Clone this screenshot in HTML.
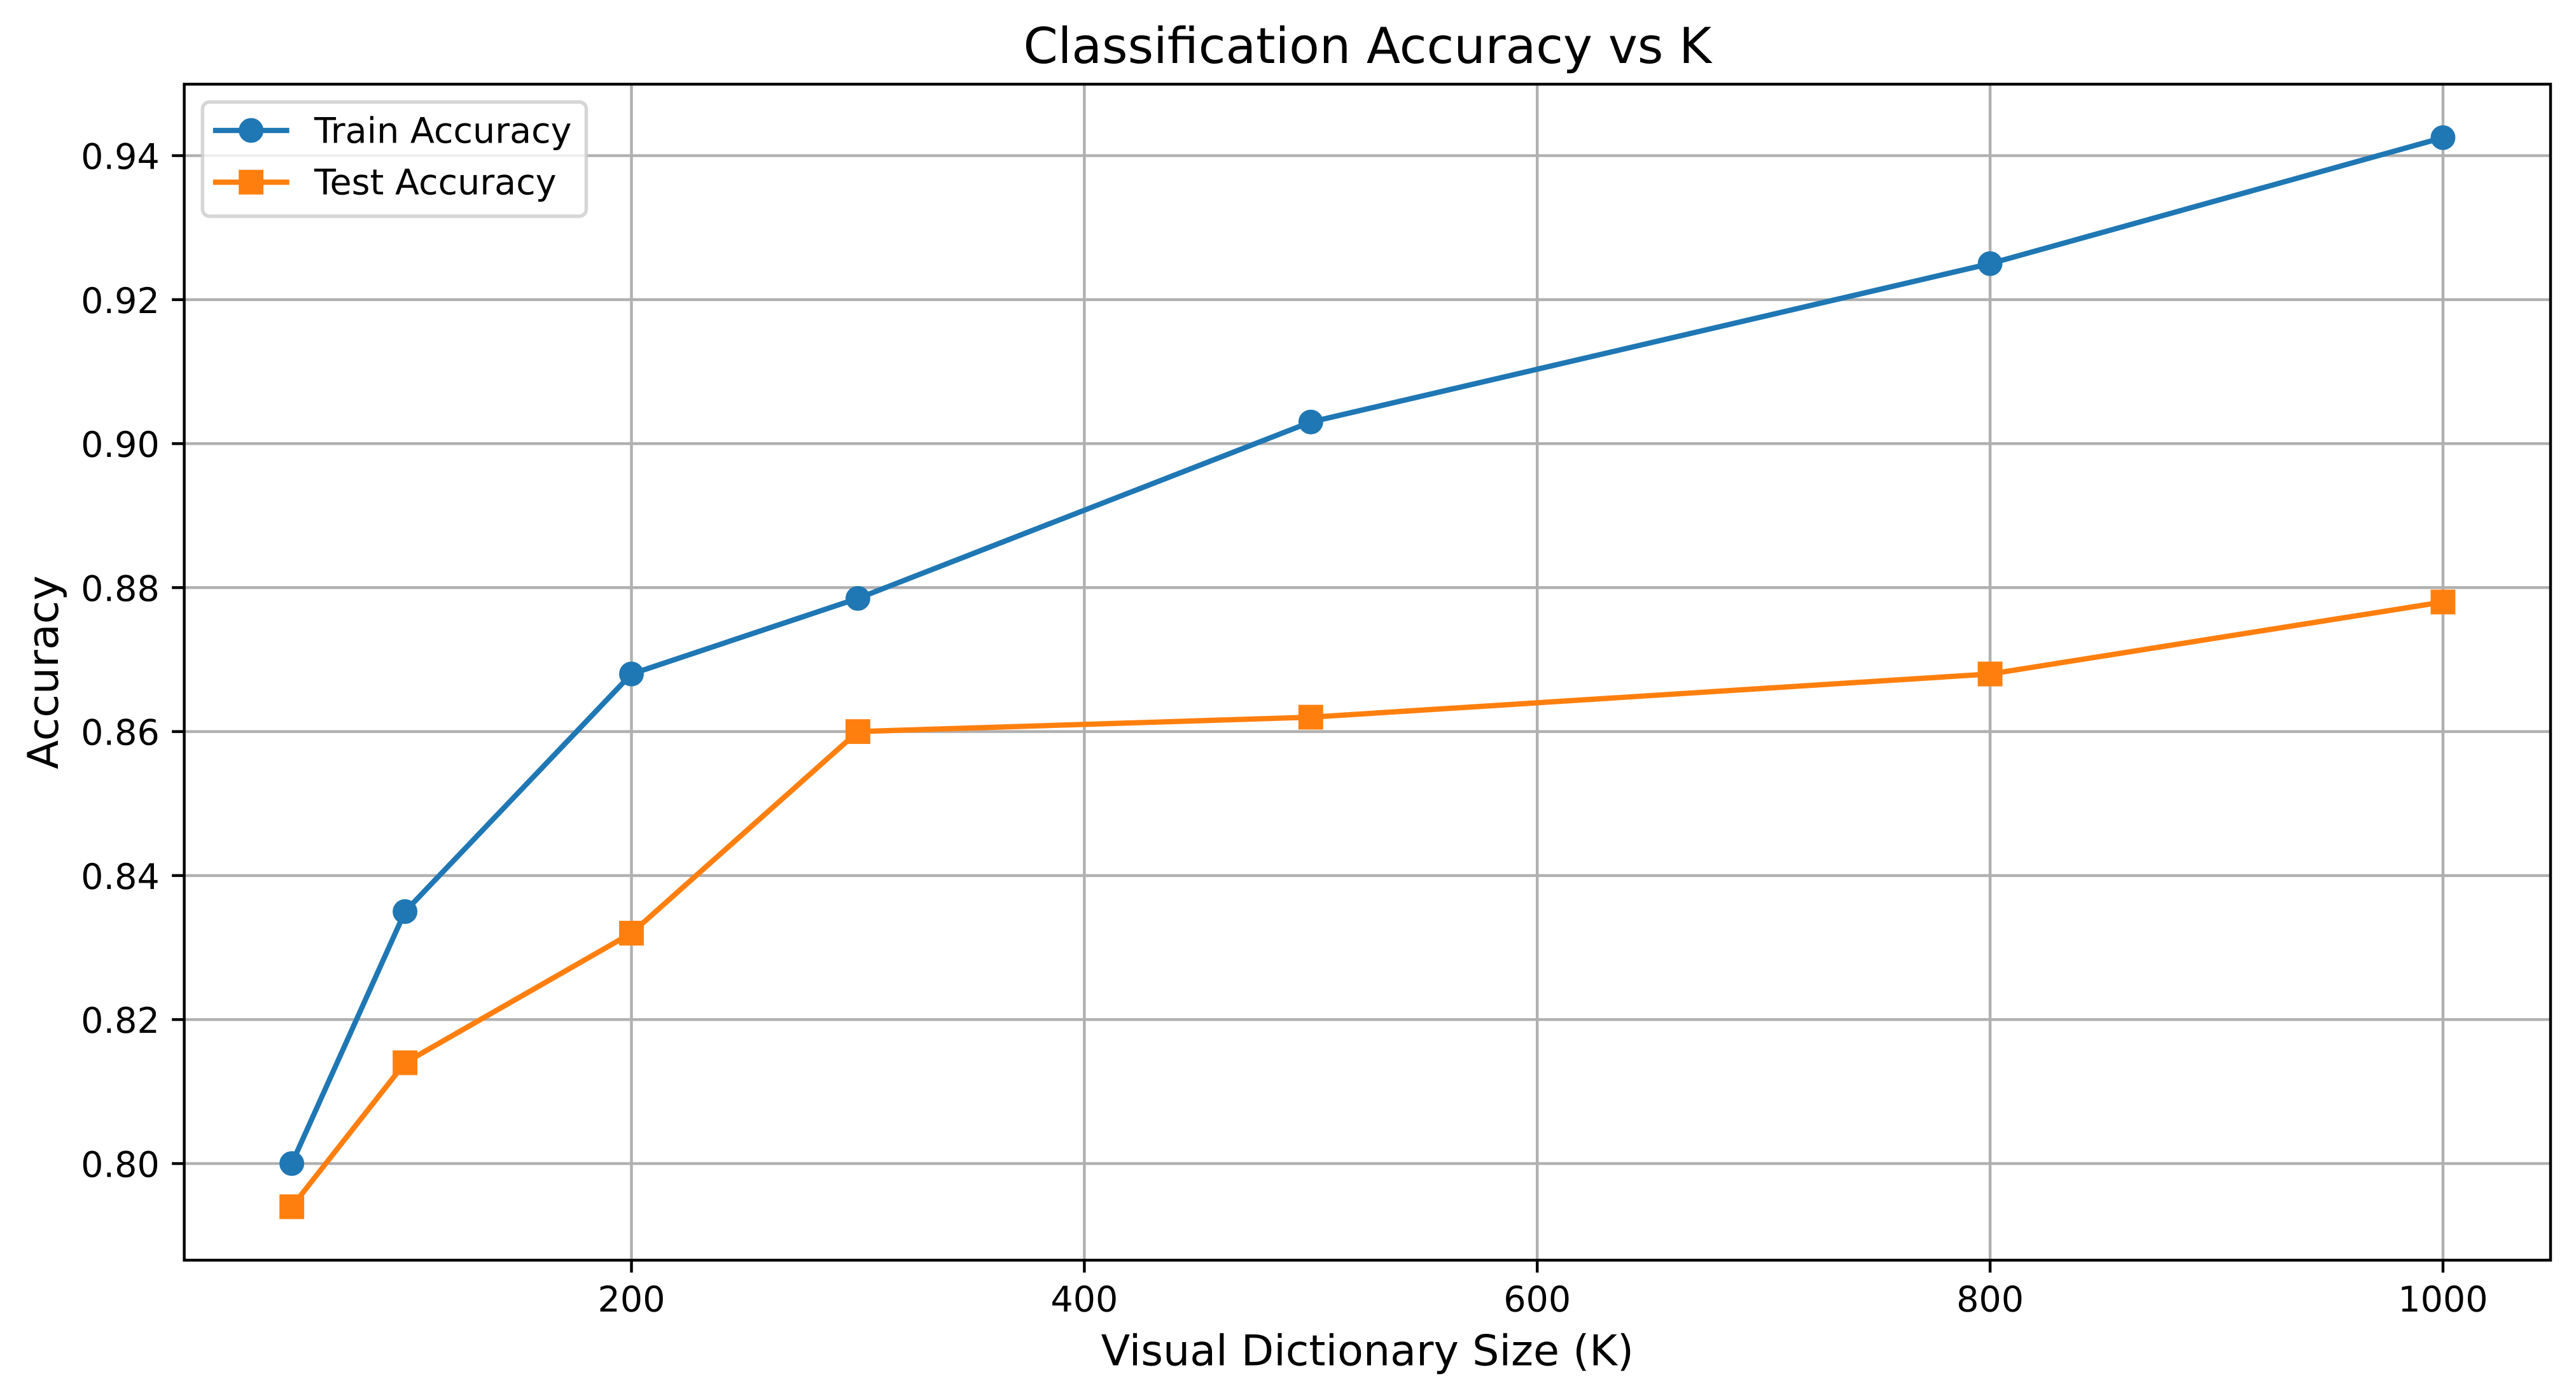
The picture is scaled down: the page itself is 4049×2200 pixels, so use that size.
<!DOCTYPE html>
<html lang="en">
<head>
<meta charset="utf-8">
<title>Classification Accuracy vs K</title>
<style>
html,body{margin:0;padding:0;background:#fff;}
body{width:4049px;height:2200px;overflow:hidden;}
svg{display:block;}
text{font-family:"DejaVu Sans","Liberation Sans",sans-serif;fill:#000;text-rendering:geometricPrecision;}
</style>
</head>
<body>
<svg id="chart" xmlns="http://www.w3.org/2000/svg" width="4049" height="2200" viewBox="0 0 4049 2200">
  <rect x="0" y="0" width="4049" height="2200" fill="#fff"/>
  <g id="grid"></g>
  <g id="ticks"></g>
  <g id="series"></g>
  <rect x="289.6" y="132.3" width="3719.4" height="1848" fill="none" stroke="#000" stroke-width="4.44" stroke-linejoin="miter"/>
  <text x="2149.3" y="99" font-size="77.8" text-anchor="middle">Classification Accuracy vs K</text>
  <text x="2149.3" y="2145.7" font-size="66.7" text-anchor="middle">Visual Dictionary Size (K)</text>
  <text transform="translate(91 1056.5) rotate(-90)" font-size="66.7" text-anchor="middle">Accuracy</text>
  <g>
    <rect x="318.3" y="160.3" width="603.2" height="179.5" rx="11" ry="11" fill="#fff" fill-opacity="0.8" stroke="#ccc" stroke-opacity="0.8" stroke-width="5.55"/>
    <g>
      <line x1="334.8" y1="205" x2="454.7" y2="205" stroke="#1f77b4" stroke-width="8.33"/>
      <circle cx="394.7" cy="205" r="16.67" fill="#1f77b4" stroke="#1f77b4" stroke-width="5.55"/>
      <text x="494" y="224.3" font-size="55.55">Train Accuracy</text>
    </g>
    <g>
      <line x1="334.8" y1="286.3" x2="454.7" y2="286.3" stroke="#ff7f0e" stroke-width="8.33"/>
      <rect x="378" y="269.6" width="33.3" height="33.3" fill="#ff7f0e" stroke="#ff7f0e" stroke-width="5.55"/>
      <text x="494" y="305.7" font-size="55.55">Test Accuracy</text>
    </g>
  </g>
</svg>
<script>
const dictionarySizes = [50, 100, 200, 300, 500, 800, 1000];
const trainAccuracy = [0.800, 0.835, 0.868, 0.8785, 0.903, 0.925, 0.9425];
const testAccuracy = [0.794, 0.814, 0.832, 0.860, 0.862, 0.868, 0.878];
const xTickValues = [200, 400, 600, 800, 1000];
const xTickLabels = ['200', '400', '600', '800', '1000'];
const yTickValues = [0.80, 0.82, 0.84, 0.86, 0.88, 0.90, 0.92, 0.94];
const yTickLabels = ['0.80', '0.82', '0.84', '0.86', '0.88', '0.90', '0.92', '0.94'];

const NS = 'http://www.w3.org/2000/svg';
const plotLeft = 289.6, plotRight = 4009, plotTop = 132.3, plotBottom = 1980.3;

function extent(values) {
  const lo = Math.min.apply(null, values), hi = Math.max.apply(null, values);
  const pad = (hi - lo) * 0.05;
  return [lo - pad, hi + pad];
}
const xDomain = extent(dictionarySizes);
const yDomain = extent(trainAccuracy.concat(testAccuracy));
function xScale(v) {
  return plotLeft + (v - xDomain[0]) / (xDomain[1] - xDomain[0]) * (plotRight - plotLeft);
}
function yScale(v) {
  return plotBottom - (v - yDomain[0]) / (yDomain[1] - yDomain[0]) * (plotBottom - plotTop);
}
function make(tag, attrs, parent) {
  const el = document.createElementNS(NS, tag);
  for (const k in attrs) el.setAttribute(k, attrs[k]);
  parent.appendChild(el);
  return el;
}

const gridGroup = document.getElementById('grid');
const tickGroup = document.getElementById('ticks');
const seriesGroup = document.getElementById('series');

xTickValues.forEach(function (v, i) {
  const x = xScale(v);
  const g = make('line', {x1: x, x2: x, y1: plotTop, y2: plotBottom, stroke: '#b0b0b0', 'stroke-width': 4.44}, gridGroup);
  
  
  const t = make('line', {x1: x, x2: x, y1: plotBottom, y2: plotBottom + 19.44, stroke: '#000', 'stroke-width': 4.44}, tickGroup);
  
  
  const l = make('text', {x: x, y: 2061, 'font-size': 55.55, 'text-anchor': 'middle'}, tickGroup);
  
  
  l.textContent = xTickLabels[i];
});

yTickValues.forEach(function (v, i) {
  const y = yScale(v);
  const g = make('line', {x1: plotLeft, x2: plotRight, y1: y, y2: y, stroke: '#b0b0b0', 'stroke-width': 4.44}, gridGroup);
  
  
  const t = make('line', {x1: plotLeft - 19.44, x2: plotLeft, y1: y, y2: y, stroke: '#000', 'stroke-width': 4.44}, tickGroup);
  
  
  const l = make('text', {x: 250.8, y: y + 21, 'font-size': 55.55, 'text-anchor': 'end'}, tickGroup);
  
  
  l.textContent = yTickLabels[i];
});

function linePoints(values) {
  return values.map(function (v, i) { return xScale(dictionarySizes[i]) + ',' + yScale(v); }).join(' ');
}

const trainLine = make('polyline', {points: linePoints(trainAccuracy), fill: 'none', stroke: '#1f77b4', 'stroke-width': 8.33, 'stroke-linejoin': 'round'}, seriesGroup);


trainAccuracy.forEach(function (v, i) {
  const m = make('circle', {cx: xScale(dictionarySizes[i]), cy: yScale(v), r: 16.67, fill: '#1f77b4', stroke: '#1f77b4', 'stroke-width': 5.55}, seriesGroup);
  
  
});

const testLine = make('polyline', {points: linePoints(testAccuracy), fill: 'none', stroke: '#ff7f0e', 'stroke-width': 8.33, 'stroke-linejoin': 'round'}, seriesGroup);


testAccuracy.forEach(function (v, i) {
  const m = make('rect', {x: xScale(dictionarySizes[i]) - 16.67, y: yScale(v) - 16.67, width: 33.33, height: 33.33, fill: '#ff7f0e', stroke: '#ff7f0e', 'stroke-width': 5.55}, seriesGroup);
  
  
});
</script>
</body>
</html>
